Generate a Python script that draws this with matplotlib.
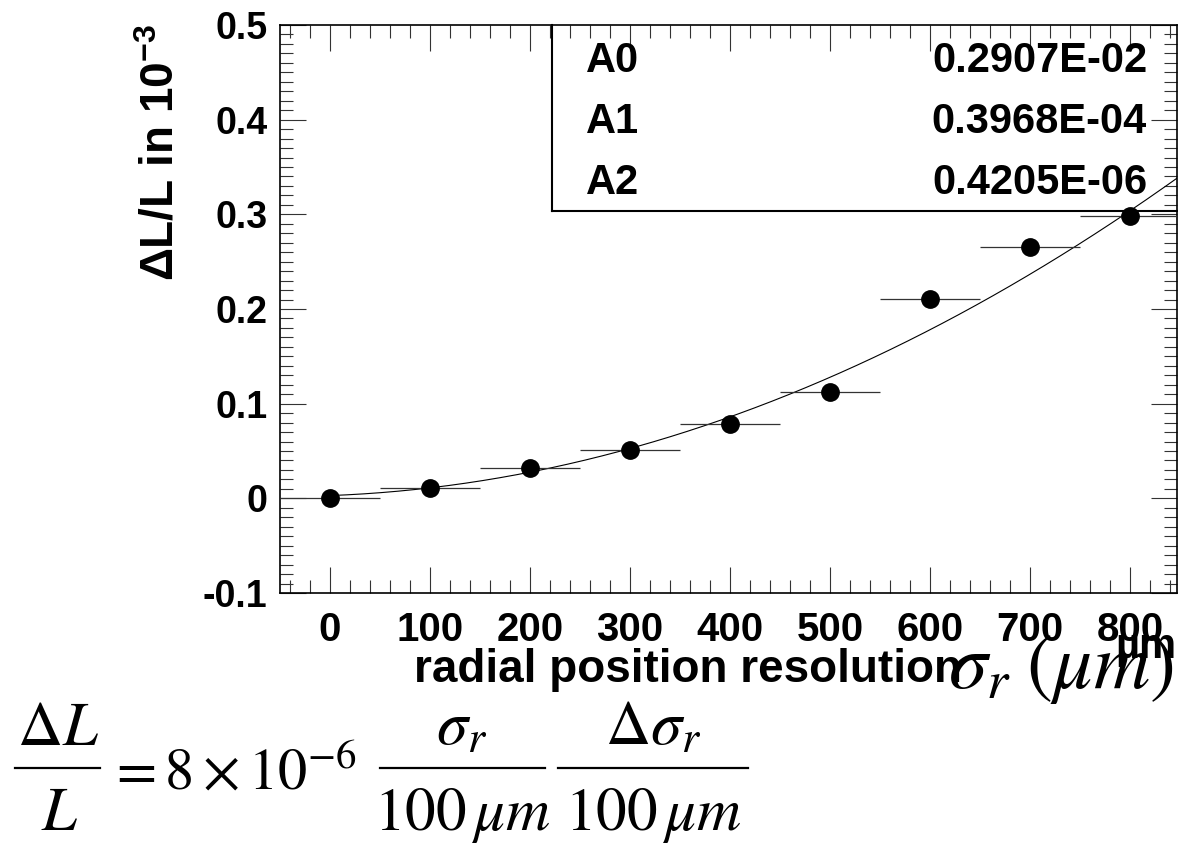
import numpy as np
import matplotlib
matplotlib.use("Agg")
import matplotlib.pyplot as plt
from matplotlib.ticker import MultipleLocator, FixedLocator, FixedFormatter
from matplotlib.lines import Line2D

# radial resolution sigma_r (um) vs. relative length error (in 1e-3)
sigma_r = [0, 100, 200, 300, 400, 500, 600, 700, 800]
dL_L = [0.0, 0.011, 0.032, 0.051, 0.078, 0.112, 0.211, 0.265, 0.298]
bin_half = [50, 50, 50, 50, 50, 50, 50, 50, 50]

# pol2 fit: A0 + A1*x + A2*x^2
fit_names = ["A0", "A1", "A2"]
fit_pars = [0.2907e-02, 0.3968e-04, 0.4205e-06]
fit_text = ["0.2907E-02", "0.3968E-04", "0.4205E-06"]

xticks = [0, 100, 200, 300, 400, 500, 600, 700, 800]
xtick_labels = ["0", "100", "200", "300", "400", "500", "600", "700", "800"]
yticks = [-0.1, 0.0, 0.1, 0.2, 0.3, 0.4, 0.5]
ytick_labels = ["-0.1", "0", "0.1", "0.2", "0.3", "0.4", "0.5"]

W, H = 1178, 844
plt.rcParams['font.family'] = ['Liberation Sans', 'DejaVu Sans']
plt.rcParams['axes.unicode_minus'] = False
plt.rcParams['mathtext.fontset'] = 'custom'
plt.rcParams['mathtext.rm'] = 'Liberation Sans:bold'
plt.rcParams['mathtext.it'] = 'Liberation Sans:bold'
plt.rcParams['mathtext.bf'] = 'Liberation Sans:bold'


def fx(px):
    return px / W


def fy(py):
    return 1 - py / H


def sans(x, y, s, size, ha='left', **kw):
    fig.text(fx(x), fy(y), s, ha=ha, va='baseline', fontsize=size,
             fontweight='bold', **kw)


def serif(x, y, s, size, ha='left'):
    fig.text(fx(x), fy(y), s, ha=ha, va='baseline', fontsize=size,
             math_fontfamily='stix')


def bar(x0, x1, y):
    fig.add_artist(Line2D([fx(x0), fx(x1)], [fy(y), fy(y)], color='black', lw=1.6))


fig = plt.figure(figsize=(W / 100, H / 100), dpi=100)
ax = fig.add_axes([fx(280), fy(593), (1177 - 280) / W, (593 - 25) / H])
ax.set_xlim(-50, 847)
ax.set_ylim(-0.1, 0.5)

# fit curve
xf = np.linspace(0, 847, 300)
yf = fit_pars[0] + fit_pars[1] * xf + fit_pars[2] * xf ** 2
ax.plot(xf, yf, color='black', lw=0.8, zorder=2)

# points with bin-width error bars
ax.errorbar(sigma_r, dL_L, xerr=bin_half, fmt='o', color='black', ms=12.5,
            ecolor='#333333', elinewidth=0.9, capsize=0, zorder=3)

# ticks, ROOT style: inside on all four sides
ax.xaxis.set_major_locator(FixedLocator(xticks))
ax.xaxis.set_major_formatter(FixedFormatter(xtick_labels))
ax.xaxis.set_minor_locator(MultipleLocator(20))
ax.yaxis.set_major_locator(FixedLocator(yticks))
ax.yaxis.set_major_formatter(FixedFormatter(ytick_labels))
ax.yaxis.set_minor_locator(MultipleLocator(0.01))
ax.tick_params(which='both', direction='in', top=True, right=True, width=0.8,
               color='#333333')
ax.tick_params(axis='x', which='major', length=19, pad=13, labelsize=29)
ax.tick_params(axis='x', which='minor', length=9.5)
ax.tick_params(axis='y', which='major', length=19, pad=9, labelsize=27)
ax.tick_params(axis='y', which='minor', length=9.5)
for lbl in ax.get_xticklabels() + ax.get_yticklabels():
    lbl.set_fontweight('bold')
for sp in ax.spines.values():
    sp.set_linewidth(1.2)

# y title, top aligned
fig.text(fx(184), fy(24), r'$\Delta$L/L in 10$^{-3}$', rotation=90,
         ha='right', va='top', fontsize=33, fontweight='bold')

# x title
sans(688, 682, 'radial position resolution', 33, ha='center')
sans(1176, 658, 'µm', 30, ha='right')
serif(1174, 688, r'$\sigma_r\;(\mu m)$', 56, ha='right')

# fit parameter box
fig.add_artist(Line2D([fx(552), fx(552)], [fy(25), fy(211)], color='black', lw=1.5))
fig.add_artist(Line2D([fx(552), fx(1177)], [fy(211), fy(211)], color='black', lw=1.5))
for i, (name, val) in enumerate(zip(fit_names, fit_text)):
    base = 72 + 61 * i
    sans(586, base, name, 30)
    sans(1147, base, val, 30, ha='right')

# formula under the plot
fs = 45
serif(58, 745, r'$\Delta L$', fs, ha='center')
bar(15, 100, 768)
serif(60, 830, r'$L$', fs, ha='center')
serif(108, 790, r'$=8\times10^{-6}$', 42)
serif(462, 745, r'$\sigma_r$', fs, ha='center')
bar(380, 545, 768)
serif(462, 830, r'$100\,\mu m$', 44, ha='center')
serif(653, 745, r'$\Delta\sigma_r$', fs, ha='center')
bar(558, 748, 768)
serif(653, 830, r'$100\,\mu m$', 44, ha='center')

fig.savefig('out.png', dpi=100)
